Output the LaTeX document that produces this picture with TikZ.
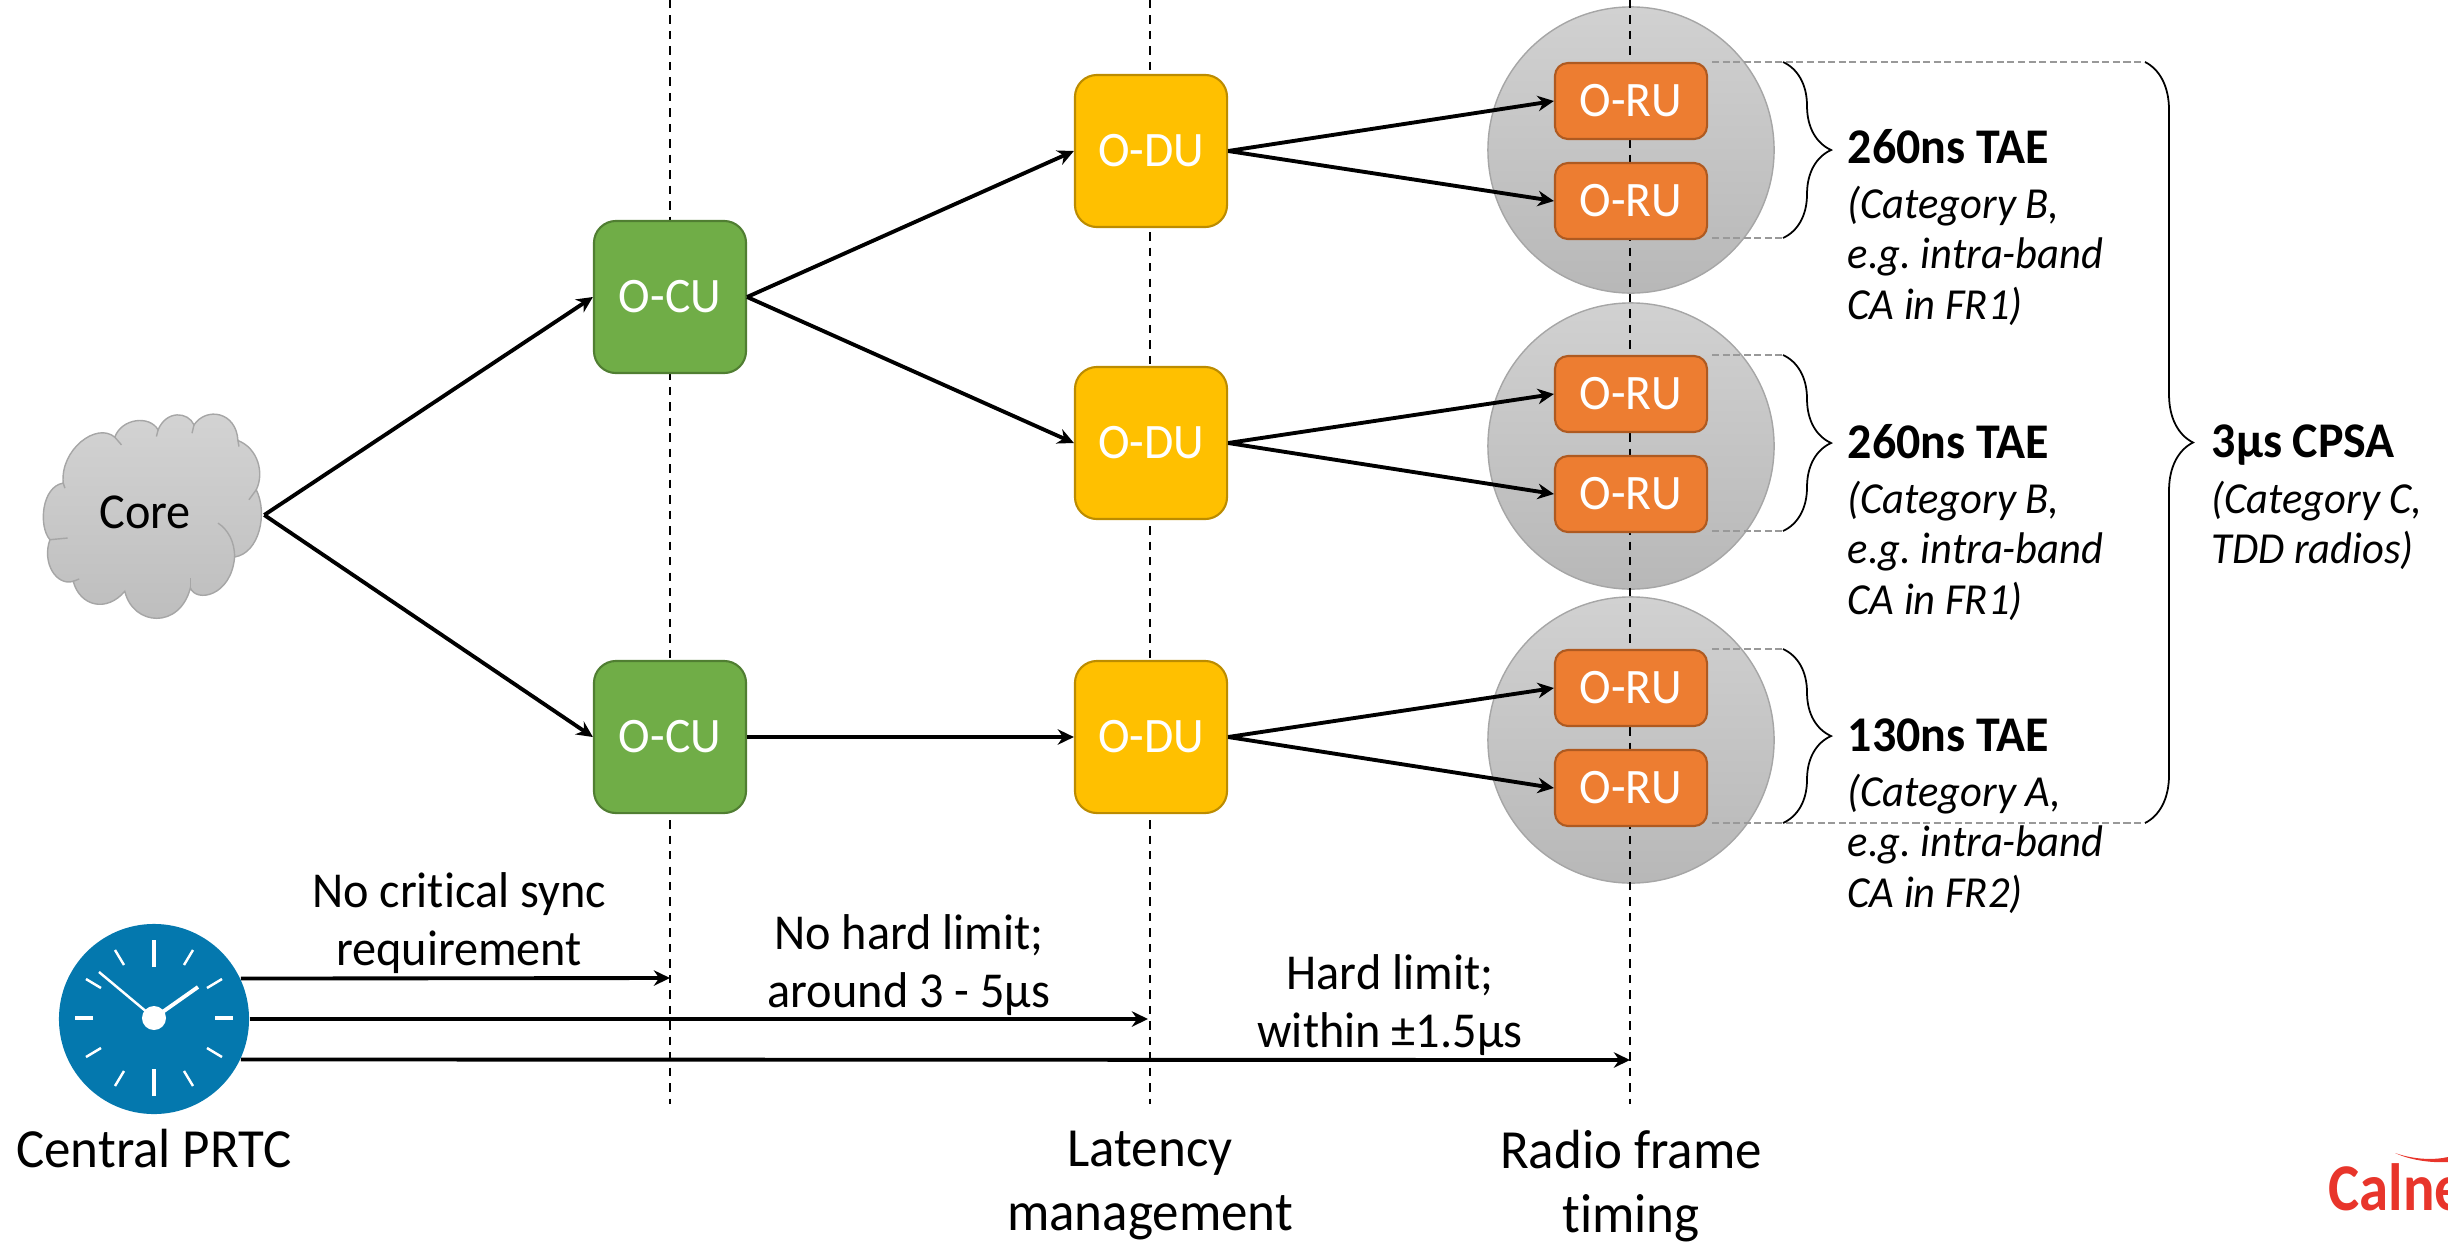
\documentclass[tikz,border=0pt]{standalone}
\usepackage{fontspec}
\setmainfont{Carlito}[FakeStretch=0.96,Ligatures=NoCommon]
\newfontfamily\logofont{Carlito}[FakeStretch=0.88]
\usetikzlibrary{arrows.meta,decorations.pathreplacing}
\definecolor{cugreen}{HTML}{70AD47}
\definecolor{cuedge}{HTML}{507E32}
\definecolor{duyellow}{HTML}{FFC000}
\definecolor{duedge}{HTML}{BC8C00}
\definecolor{ruorange}{HTML}{ED7D31}
\definecolor{ruedge}{HTML}{AE5A21}
\definecolor{clockblue}{HTML}{0478AE}
\definecolor{logored}{HTML}{E8352B}
\tikzset{
    unitbox/.style={draw, line width=0.6pt, rounded corners=0.22cm, minimum width=1.52cm, minimum height=1.52cm, inner sep=0pt, text=white, font=\fontsize{14.1pt}{14.1pt}\selectfont},
    cubox/.style={unitbox, fill=cugreen, draw=cuedge},
    dubox/.style={unitbox, fill=duyellow, draw=duedge},
    rubox/.style={unitbox, fill=ruorange, draw=ruedge, minimum height=0.76cm, rounded corners=0.13cm},
    ringzone/.style={circle, draw=black!35, line width=0.4pt, top color=black!18, bottom color=black!28, minimum size=2.86cm, inner sep=0pt},
    link/.style={-{Stealth[length=4.6pt,width=4.4pt]}, line width=1.1pt},
    boundary/.style={line width=0.5pt, dash pattern=on 2.4pt off 2pt},
    guide/.style={draw=black!40, line width=0.4pt, dash pattern=on 2pt off 1pt},
    curly/.style={line width=0.5pt, decorate, decoration={brace, amplitude=0.48cm}},
    plain/.style={align=center, inner sep=0pt, font=\fontsize{14.3pt}{16.5pt}\selectfont},
    footer/.style={align=center, inner sep=0pt, font=\fontsize{15.7pt}{18.2pt}\selectfont},
    budget/.style={anchor=west, inner sep=0pt, font=\fontsize{14.2pt}{14.2pt}\selectfont\bfseries},
    budgetnote/.style={anchor=north west, align=left, inner sep=0pt, font=\fontsize{12.6pt}{14.4pt}\selectfont\itshape\frenchspacing},
}
\begin{document}
\begin{tikzpicture}[x=0.01cm, y=-0.01cm]
    \useasboundingbox (0, 0) rectangle (2448, 1242);

    % Draw the zones behind the radio units
    \node[ringzone] (zone1) at (1631, 150) {};
    \node[ringzone] (zone2) at (1631, 446) {};
    \node[ringzone] (zone3) at (1631, 740) {};

    % Draw the three boundaries
    \coordinate (cutop) at (670, 0);
    \coordinate (cubot) at (670, 1104);
    \coordinate (dutop) at (1150, 0);
    \coordinate (dubot) at (1150, 1104);
    \coordinate (rutop) at (1630, 0);
    \coordinate (rubot) at (1630, 1104);
    \draw[boundary] (cutop) -- (cubot);
    \draw[boundary] (dutop) -- (dubot);
    \draw[boundary] (rutop) -- (rubot);

    % Draw the cloud
    \begin{scope}[shift={(0, 350)}, x=0.00333cm, y=-0.00333cm]
        \path[draw=black!35, line width=0.4pt, top color=black!17, bottom color=black!26]
            (190, 400) .. controls (180, 300) and (290, 215) .. (345, 262)
            .. controls (365, 205) and (450, 195) .. (475, 240)
            .. controls (500, 180) and (565, 185) .. (583, 225)
            .. controls (620, 170) and (710, 185) .. (715, 272)
            .. controls (775, 295) and (795, 370) .. (770, 420)
            .. controls (805, 490) and (780, 610) .. (705, 622)
            .. controls (695, 740) and (590, 760) .. (572, 715)
            .. controls (540, 840) and (400, 830) .. (375, 725)
            .. controls (320, 790) and (240, 770) .. (220, 695)
            .. controls (170, 710) and (125, 640) .. (150, 570)
            .. controls (115, 530) and (125, 410) .. (190, 400) -- cycle;
        \draw[black!35, line width=0.4pt] (345, 262) -- (365, 285);
        \draw[black!35, line width=0.4pt] (475, 240) -- (470, 260);
        \draw[black!35, line width=0.4pt] (583, 225) -- (577, 250);
        \draw[black!35, line width=0.4pt] (715, 272) -- (718, 290);
        \draw[black!35, line width=0.4pt] (770, 420) -- (748, 450);
        \draw[black!35, line width=0.4pt] (705, 622) .. controls (705, 575) and (685, 540) .. (655, 520);
        \draw[black!35, line width=0.4pt] (572, 715) -- (572, 685);
        \draw[black!35, line width=0.4pt] (220, 695) -- (238, 688);
        \draw[black!35, line width=0.4pt] (150, 570) -- (203, 565);
        \draw[black!35, line width=0.4pt] (190, 400) -- (195, 415);
    \end{scope}
    \node[minimum width=2.21cm, minimum height=2.05cm, inner sep=0pt] (core) at (153, 515) {};
    \node[plain] (corelabel) at (145, 512) {Core};

    % Draw the central and distributed units
    \node[cubox] (ocu1) at (670, 297) {O-CU};
    \node[cubox] (ocu2) at (670, 737) {O-CU};
    \node[dubox] (odu1) at (1151, 151) {O-DU};
    \node[dubox] (odu2) at (1151, 443) {O-DU};
    \node[dubox] (odu3) at (1151, 737) {O-DU};

    % Draw the radio units
    \node[rubox] (oru1) at (1631, 101) {O-RU};
    \node[rubox] (oru2) at (1631, 201) {O-RU};
    \node[rubox] (oru3) at (1631, 394) {O-RU};
    \node[rubox] (oru4) at (1631, 494) {O-RU};
    \node[rubox] (oru5) at (1631, 688) {O-RU};
    \node[rubox] (oru6) at (1631, 788) {O-RU};

    % Draw the links between units
    \draw[link] (core.east) -- (ocu1.west);
    \draw[link] (core.east) -- (ocu2.west);
    \draw[link] (ocu1.east) -- (odu1.west);
    \draw[link] (ocu1.east) -- (odu2.west);
    \draw[link] (ocu2.east) -- (odu3.west);
    \draw[link] (odu1.east) -- (oru1.west);
    \draw[link] (odu1.east) -- (oru2.west);
    \draw[link] (odu2.east) -- (oru3.west);
    \draw[link] (odu2.east) -- (oru4.west);
    \draw[link] (odu3.east) -- (oru5.west);
    \draw[link] (odu3.east) -- (oru6.west);

    % Draw the small braces and their guides
    \coordinate (g1a) at (1712, 62);
    \coordinate (g1b) at (1712, 238);
    \coordinate (g2a) at (1712, 355);
    \coordinate (g2b) at (1712, 531);
    \coordinate (g3a) at (1712, 649);
    \coordinate (g3b) at (1712, 823);
    \coordinate (b1a) at (1783, 62);
    \coordinate (b1b) at (1783, 238);
    \coordinate (b2a) at (1783, 355);
    \coordinate (b2b) at (1783, 531);
    \coordinate (b3a) at (1783, 649);
    \coordinate (b3b) at (1783, 823);
    \coordinate (b4a) at (2145, 62);
    \coordinate (b4b) at (2145, 823);
    \draw[guide] (g1a) -- (b4a);
    \draw[guide] (g1b) -- (b1b);
    \draw[guide] (g2a) -- (b2a);
    \draw[guide] (g2b) -- (b2b);
    \draw[guide] (g3a) -- (b3a);
    \draw[guide] (g3b) -- (b4b);
    \draw[curly] (b1a) -- (b1b);
    \draw[curly] (b2a) -- (b2b);
    \draw[curly] (b3a) -- (b3b);
    \draw[curly] (b4a) -- (b4b);

    % Write the budgets
    \node[budget] (tae1) at (1847, 147) {260ns TAE};
    \node[budgetnote] (note1) at (1847, 185) {(Category B,\\e.g. intra-band\\CA in FR1)};
    \node[budget] (tae2) at (1847, 442) {260ns TAE};
    \node[budgetnote] (note2) at (1847, 480) {(Category B,\\e.g. intra-band\\CA in FR1)};
    \node[budget] (tae3) at (1847, 735) {130ns TAE};
    \node[budgetnote] (note3) at (1847, 773) {(Category A,\\e.g. intra-band\\CA in FR2)};
    \node[budget] (cpsa) at (2211, 445) {3µs CPSA};
    \node[budgetnote] (note4) at (2211, 480) {(Category C,\\TDD radios)};

    % Draw the clock
    \node[circle, fill=clockblue, minimum size=1.9cm, inner sep=0pt] (clock) at (154, 1019) {};
    \begin{scope}[shift={(154, 1018)}]
        \draw[white, line width=1.2pt] (0, -51) -- (0, -78) (0, 51) -- (0, 78);
        \draw[white, line width=1.2pt] (61, 0) -- (79, 0) (-61, 0) -- (-79, 0);
        \draw[white, line width=0.7pt] (30, -53) -- (39, -68) (53, -30) -- (68, -39);
        \draw[white, line width=0.7pt] (53, 30) -- (68, 39) (30, 53) -- (39, 68);
        \draw[white, line width=0.7pt] (-30, 53) -- (-39, 68) (-53, 30) -- (-68, 39);
        \draw[white, line width=0.7pt] (-53, -30) -- (-68, -39) (-30, -53) -- (-39, -68);
        \draw[white, line width=1.1pt] (0, 0) -- (44, -31);
        \draw[white, line width=0.7pt] (0, 0) -- (-55, -46);
        \fill[white] (0, 0) circle (0.12cm);
    \end{scope}

    % Draw the sync arrows
    \coordinate (sync1) at (670, 978);
    \coordinate (sync2) at (1148, 1019);
    \coordinate (sync3) at (1630, 1060);
    \draw[link] (clock.25.5) -- (sync1);
    \draw[link] (clock.east) -- (sync2);
    \draw[link] (clock.-25.5) -- (sync3);
    \node[plain] (limit1) at (459, 923) {No critical sync\\requirement};
    \node[plain] (limit2) at (909, 965) {No hard limit;\\around 3 - 5µs};
    \node[plain] (limit3) at (1390, 1005) {Hard limit;\\within ±1.5µs};

    % Write the footers
    \node[footer] (prtc) at (154, 1149) {Central PRTC};
    \node[footer] (latency) at (1150, 1186) {Latency\\management};
    \node[footer] (radio) at (1631, 1186) {Radio frame\\timing};

    % Draw the logo, cut by the page edge
    \begin{scope}
        \clip (0, 0) rectangle (2448, 1242);
        \node[anchor=base west, inner sep=0pt, text=logored, font=\logofont\fontsize{19pt}{19pt}\selectfont\bfseries] (logo) at (2328, 1210) {Calne};
        \fill[logored] (2395, 1153) .. controls (2415, 1160) and (2435, 1160) .. (2448, 1157) -- (2448, 1162) .. controls (2430, 1163) and (2410, 1160) .. (2395, 1153) -- cycle;
    \end{scope}
\end{tikzpicture}
\end{document}
